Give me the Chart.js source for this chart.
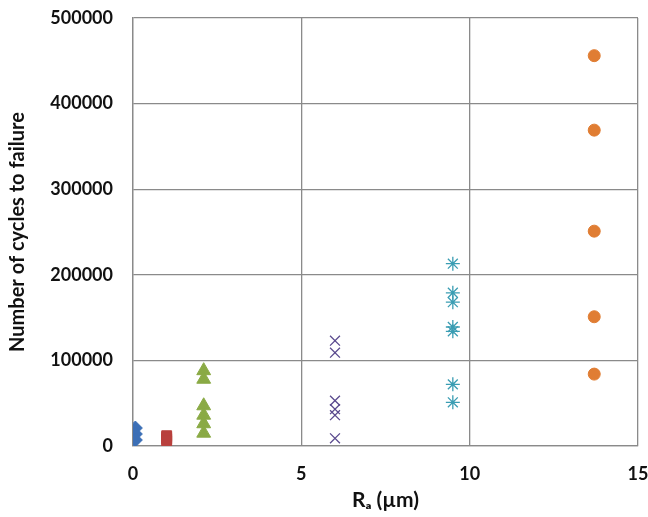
<!DOCTYPE html>
<html>
<head>
<meta charset="utf-8">
<script src="https://cdn.jsdelivr.net/npm/chart.js@4"></script>
<style>
  body { margin: 0; background: #fff; }
  #box { width: 648px; height: 517px; }
</style>
</head>
<body>
<div id="box"><canvas id="scatterChart"></canvas></div>
<script>
// Ra (um) and cycles to failure, one group per surface finish
var diamondX = [0.07, 0.07, 0.07];
var diamondY = [21000, 14000, 7000];
var squareX = [1.0, 1.0, 1.0, 1.0];
var squareY = [12000, 10000, 8000, 6000];
var triangleX = [2.1, 2.1, 2.1, 2.1, 2.1, 2.1];
var triangleY = [88000, 78000, 47000, 36000, 26000, 15000];
var crossX = [6.0, 6.0, 6.0, 6.0, 6.0, 6.0];
var crossY = [123000, 109000, 53000, 43000, 36000, 9000];
var starX = [9.5, 9.5, 9.5, 9.5, 9.5, 9.5, 9.5];
var starY = [213000, 179000, 168000, 139000, 134000, 72000, 51000];
var circleX = [13.7, 13.7, 13.7, 13.7, 13.7];
var circleY = [456000, 369000, 251000, 151000, 84000];

var xTicks = [0, 5, 10, 15];
var yTicks = [0, 100000, 200000, 300000, 400000, 500000];

function pts(xs, ys) {
    return xs.map(function (x, i) { return { x: x, y: ys[i] }; });
}

var gridColor = '#8a8a8a';
var fam = 'Lato, "Open Sans", sans-serif';
var font = { family: fam, size: 18, weight: 'bold' };

var ctx = document.getElementById('scatterChart').getContext('2d');
var scatterChart = new Chart(ctx, {
    type: 'scatter',
    data: {
        datasets: [{
            data: pts(diamondX, diamondY),
            pointStyle: 'rectRot',
            radius: 7,
            backgroundColor: '#3c6fb6',
            borderColor: '#3c6fb6'
        },
        {
            data: pts(squareX, squareY),
            pointStyle: 'rect',
            radius: 7,
            backgroundColor: '#b9403d',
            borderColor: '#b9403d'
        },
        {
            data: pts(triangleX, triangleY),
            pointStyle: 'triangle',
            radius: 8,
            backgroundColor: '#8aaa45',
            borderColor: '#8aaa45'
        },
        {
            data: pts(crossX, crossY),
            pointStyle: 'crossRot',
            radius: 7,
            borderWidth: 1.3,
            borderColor: '#5a4a8e'
        },
        {
            data: pts(starX, starY),
            pointStyle: 'star',
            radius: 7,
            borderWidth: 1.3,
            borderColor: '#3a9db3'
        },
        {
            data: pts(circleX, circleY),
            pointStyle: 'circle',
            radius: 6,
            backgroundColor: '#e07d33',
            borderColor: '#e07d33'
        }]
    },
    options: {
        responsive: true,
        maintainAspectRatio: false,
        animation: false,
        layout: { padding: { top: 18, right: 10, left: 0, bottom: 4 } },
        plugins: { legend: { display: false }, tooltip: { enabled: false } },
        scales: {
            x: {
                type: 'linear',
                min: 0,
                max: 15,
                afterBuildTicks: function (scale) {
                    scale.ticks = xTicks.map(function (v) { return { value: v }; });
                },
                grid: { color: gridColor, lineWidth: 1.3, drawTicks: false },
                border: { color: gridColor, width: 1.3 },
                ticks: { color: '#111', font: font, padding: 17 },
                title: {
                    display: true,
                    text: 'Rₐ (µm)',
                    color: '#111',
                    font: { family: fam, size: 21, weight: 'bold' },
                    padding: { top: 2, bottom: 0 }
                },
                afterFit: function (scale) {
                    scale.height = 67;
                    scale.paddingLeft = 0;
                    scale.paddingRight = 0;
                }
            },
            y: {
                min: 0,
                max: 500000,
                afterBuildTicks: function (scale) {
                    scale.ticks = yTicks.map(function (v) { return { value: v }; });
                },
                grid: { color: gridColor, lineWidth: 1.3, drawTicks: false },
                border: { color: gridColor, width: 1.3 },
                ticks: {
                    color: '#111',
                    font: font,
                    padding: 20,
                    callback: function (v) { return String(v); }
                },
                title: {
                    display: true,
                    text: 'Number of cycles to failure',
                    color: '#111',
                    font: { family: fam, size: 20, weight: 'bold' },
                    padding: { top: 6, bottom: 0 }
                },
                afterFit: function (scale) {
                    scale.width = 133;
                    scale.paddingTop = 0;
                    scale.paddingBottom = 0;
                }
            }
        }
    }
});
</script>
</body>
</html>
